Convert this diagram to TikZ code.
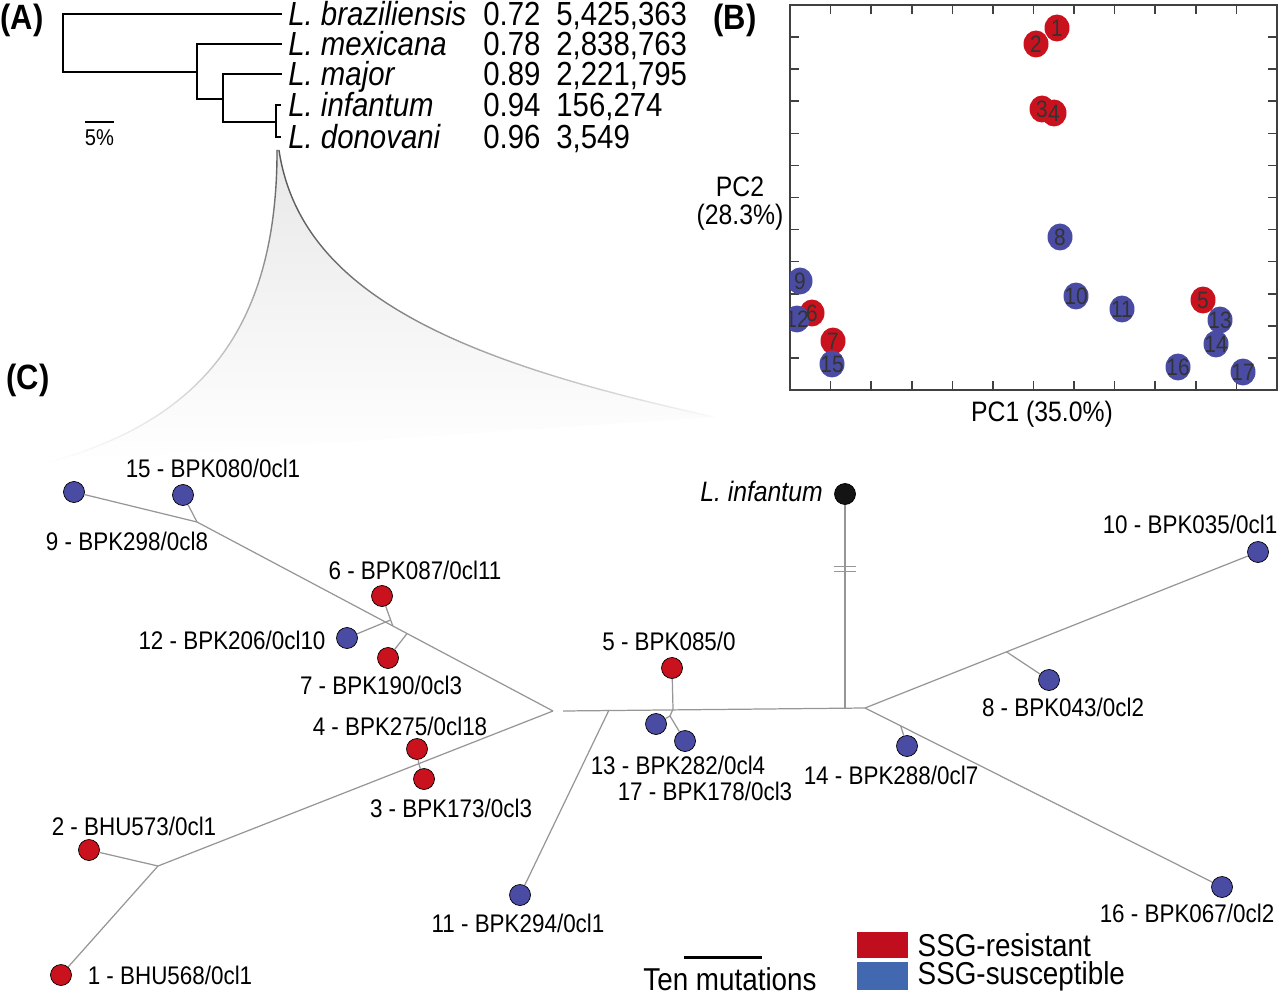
\documentclass[tikz,border=0pt]{standalone}
\usepackage{fontspec}
\setmainfont{Liberation Sans}[FakeStretch=0.88]
\usepackage{tikz}
\usetikzlibrary{positioning, calc, shapes, fadings}
\definecolor{myred}{RGB}{202, 18, 30}
\definecolor{myblue}{RGB}{74, 76, 164}
\definecolor{keyred}{RGB}{192, 14, 30}
\definecolor{keyblue}{RGB}{66, 104, 176}
\definecolor{branchgray}{RGB}{150, 150, 150}
\newcommand{\labfont}{\fontsize{14.5}{17}\selectfont}
\newcommand{\taxfont}{\fontsize{19}{22}\selectfont}
\newcommand{\pcfont}{\fontsize{16}{19}\selectfont}
\newcommand{\keyfont}{\fontsize{18}{21}\selectfont}
\newcommand{\panfont}{\fontsize{20}{24}\selectfont\bfseries}

\begin{document}
\begin{tikzpicture}[x={(0.02cm,0)}, y={(0,-0.02cm)}, every node/.style={inner sep=0pt},
  tree/.style={line width=0.9pt},
  branch/.style={draw=branchgray, line width=0.7pt},
  lab/.style={font=\labfont},
  tax/.style={font=\taxfont, anchor=base west, text height=1.5ex, text depth=0.2ex},
  res/.style={circle, draw, thin, fill=myred, minimum size=0.42cm},
  sus/.style={circle, draw, thin, fill=myblue, minimum size=0.42cm},
  pc/.style={ellipse, minimum width=0.5cm, minimum height=0.54cm},
  pcres/.style={pc, fill=myred},
  pcsus/.style={pc, fill=myblue},
  pcnum/.style={font=\fontsize{13.5}{16}\selectfont, text=black!80}]
  \useasboundingbox (0,0) rectangle (1280,996);

  % panel letters
  \node [font=\panfont] (pa) at (22,20) {(A)};
  \node [font=\panfont] (pb) at (735,20) {(B)};
  \node [font=\panfont] (pcc) at (28,380) {(C)};

  % (A) species tree
  \coordinate (tb) at (282,14);
  \coordinate (tm) at (282,44);
  \coordinate (tj) at (282,74);
  \coordinate (ti) at (281,105);
  \coordinate (td) at (281,137);
  \coordinate (r0) at (63,72);
  \coordinate (r1) at (197,72);
  \coordinate (r2) at (197,99);
  \coordinate (r3) at (223,99);
  \coordinate (r4) at (223,122);
  \coordinate (r5) at (276,122);
  \coordinate (r6) at (276,105);
  \coordinate (r7) at (276,137);
  \draw [tree] (tb) -| (r0) -- (r1);
  \draw [tree] (tm) -| (r2) -- (r3);
  \draw [tree] (tj) -| (r4) -- (r5);
  \draw [tree] (ti) -- (r6) -- (r7) -- (td);
  \coordinate (sb0) at (85,122);
  \coordinate (sb1) at (114,122);
  \draw [line width=0.8pt] (sb0) -- (sb1);
  \node [font=\fontsize{13}{15}\selectfont] (sbl) at (99.5,138) {5\%};

  \node [tax] (braz) at (288,26) {\textit{L. braziliensis}};
  \node [tax] (mexi) at (288,56) {\textit{L. mexicana}};
  \node [tax] (majo) at (288,86) {\textit{L. major}};
  \node [tax] (infa) at (288,117) {\textit{L. infantum}};
  \node [tax] (dono) at (288,149) {\textit{L. donovani}};
  \node [tax] (vb) at (483,26) {0.72};
  \node [tax] (vm) at (483,56) {0.78};
  \node [tax] (vj) at (483,86) {0.89};
  \node [tax] (vi) at (483,117) {0.94};
  \node [tax] (vd) at (483,149) {0.96};
  \node [tax] (cb) at (556,26) {5,425,363};
  \node [tax] (cm) at (556,56) {2,838,763};
  \node [tax] (cj) at (556,86) {2,221,795};
  \node [tax] (ci) at (556,117) {156,274};
  \node [tax] (cd) at (556,149) {3,549};

  % zoom fan
  \shade [top color=black!9, bottom color=white] (277,150) .. controls (277,330) and (200,420) .. (50,462)
    -- (715,417) .. controls (450,360) and (300,290) .. (279,150) -- cycle;
  \draw [black!65, line width=0.8pt, path fading=south] (277,150) .. controls (277,330) and (200,420) .. (50,462);
  \draw [black!65, line width=0.8pt, path fading=east] (279,150) .. controls (300,290) and (450,360) .. (715,417);

  % (B) PCA frame
  \draw [black!75, line width=0.9pt] (790,5) rectangle (1277,390);
  \foreach \i in {1,...,11} {
    \draw [black!75, line width=0.9pt] ({790+\i*40.583},5) -- ++(0,9);
    \draw [black!75, line width=0.9pt] ({790+\i*40.583},390) -- ++(0,-9);
    \draw [black!75, line width=0.9pt] (790,{5+\i*32.083}) -- ++(9,0);
    \draw [black!75, line width=0.9pt] (1277,{5+\i*32.083}) -- ++(-9,0);
  }
  \node [font=\pcfont] (pc2) at (740,187) {PC2};
  \node [font=\pcfont] (pc2v) at (740,217) {(28.3\%)};
  \node [font=\pcfont] (pc1) at (1042,414) {PC1 (35.0\%)};

  % PCA points
  \begin{scope}
  \clip (790,5) rectangle (1277,390);
  \node [pcres] (p1) at (1057,28) {};
  \node [pcres] (p2) at (1036,44) {};
  \node [pcres] (p3) at (1042,109) {};
  \node [pcres] (p4) at (1054,113) {};
  \node [pcsus] (p8) at (1060,237) {};
  \node [pcsus] (p9) at (800,281) {};
  \node [pcsus] (p10) at (1076,296) {};
  \node [pcsus] (p11) at (1122,309) {};
  \node [pcres] (p5) at (1203,300) {};
  \node [pcsus] (p13) at (1220,320) {};
  \node [pcsus] (p14) at (1216,344) {};
  \node [pcres] (p6) at (812,313) {};
  \node [pcsus] (p12) at (797,319) {};
  \node [pcres] (p7) at (833,341) {};
  \node [pcsus] (p15) at (832,364) {};
  \node [pcsus] (p16) at (1178,367) {};
  \node [pcsus] (p17) at (1243,372) {};
  \foreach \k in {1,...,17}
    \node [pcnum] at (p\k) {\k};
  \end{scope}

  % (C) network nodes
  \node [res] (n1) at (61,975) {};
  \node [res] (n2) at (89,850) {};
  \node [res] (n3) at (424,779) {};
  \node [res] (n4) at (417,749) {};
  \node [res] (n5) at (672,668) {};
  \node [res] (n6) at (382,596) {};
  \node [res] (n7) at (388,658) {};
  \node [sus] (n8) at (1049,680) {};
  \node [sus] (n9) at (74,492) {};
  \node [sus] (n10) at (1258,552) {};
  \node [sus] (n11) at (520,895) {};
  \node [sus] (n12) at (347,638) {};
  \node [sus] (n13) at (656,724) {};
  \node [sus] (n14) at (907,746) {};
  \node [sus] (n15) at (183,495) {};
  \node [sus] (n16) at (1222,887) {};
  \node [sus] (n17) at (685,741) {};
  \node [circle, draw, thin, fill=black!92, minimum size=0.42cm] (linf) at (845,494) {};

  % junctions
  \coordinate (hubL) at (553,711);
  \coordinate (hubLr) at (563,711);
  \coordinate (j11) at (609,710);
  \coordinate (j5) at (673,709);
  \coordinate (jinf) at (845,709);
  \coordinate (hubR) at (865,708);
  \coordinate (j15) at (197,522);
  \coordinate (j6) at ($(j15)!0.55!(hubL)$);
  \coordinate (j7) at ($(j15)!0.59!(hubL)$);
  \coordinate (j12) at ($(n6)!0.8!(j6)$);
  \coordinate (j2) at (158,866);
  \coordinate (j34) at ($(hubL)!0.34!(j2)$);
  \coordinate (j1317) at (670,716);
  \coordinate (j8) at ($(hubR)!0.36!(n10)$);
  \coordinate (j14) at ($(hubR)!0.1!(n16)$);
  \coordinate (brk) at (845,569);

  % edges
  \draw [branch] (n9) -- (j15) -- (hubL);
  \draw [branch] (n15) -- (j15);
  \draw [branch] (n6) -- (j6);
  \draw [branch] (n12) -- (j12);
  \draw [branch] (n7) -- (j7);
  \draw [branch] (hubL) -- (j34) -- (j2);
  \draw [branch] (n4) -- (j34);
  \draw [branch] (n3) -- (j34);
  \draw [branch] (n2) -- (j2);
  \draw [branch] (n1) -- (j2);
  \draw [branch] (hubLr) -- (hubR);
  \draw [branch] (n11) -- (j11);
  \draw [branch] (n5) -- (j5) -- (j1317);
  \draw [branch] (j1317) -- (n13);
  \draw [branch] (j1317) -- (n17);
  \draw [branch] (linf) -- (jinf);
  \draw [branch] (hubR) -- (n10);
  \draw [branch] (hubR) -- (n16);
  \draw [branch] (n8) -- (j8);
  \draw [branch] (n14) -- (j14);
  \draw [branch] ([xshift=-6pt, yshift=1.6pt]brk) -- ++(12pt,0);
  \draw [branch] ([xshift=-6pt, yshift=-1.6pt]brk) -- ++(12pt,0);

  % labels
  \node [lab] (l15) at (213,468) {15 - BPK080/0cl1};
  \node [lab] (l9) at (127,541) {9 - BPK298/0cl8};
  \node [lab] (l6) at (415,570) {6 - BPK087/0cl11};
  \node [lab] (l12) at (232,640) {12 - BPK206/0cl10};
  \node [lab] (l7) at (381,685) {7 - BPK190/0cl3};
  \node [lab] (l4) at (400,726) {4 - BPK275/0cl18};
  \node [lab] (l3) at (451,808) {3 - BPK173/0cl3};
  \node [lab] (l2) at (134,826) {2 - BHU573/0cl1};
  \node [lab] (l1) at (170,975) {1 - BHU568/0cl1};
  \node [lab] (l11) at (518,923) {11 - BPK294/0cl1};
  \node [lab] (l5) at (669,641) {5 - BPK085/0};
  \node [lab] (l13) at (678,765) {13 - BPK282/0cl4};
  \node [lab] (l17) at (705,791) {17 - BPK178/0cl3};
  \node [lab] (l14) at (891,775) {14 - BPK288/0cl7};
  \node [lab] (l8) at (1063,707) {8 - BPK043/0cl2};
  \node [lab] (l10) at (1190,524) {10 - BPK035/0cl1};
  \node [lab] (l16) at (1187,913) {16 - BPK067/0cl2};
  \node [font=\fontsize{16}{19}\selectfont, anchor=east] (linfl) at (823,491) {\textit{L. infantum}};

  % scale bar and key
  \coordinate (tm0) at (684,957);
  \coordinate (tm1) at (762,957);
  \draw [line width=1.7pt] (tm0) -- (tm1);
  \node [font=\keyfont] (tml) at (730,979) {Ten mutations};
  \node [fill=keyred, minimum width=1.02cm, minimum height=0.52cm] (kres) at (882.5,945) {};
  \node [fill=keyblue, minimum width=1.02cm, minimum height=0.56cm] (ksus) at (882.5,976) {};
  \node [font=\keyfont, right = 0.18cm of kres] (kresl) {SSG-resistant};
  \node [font=\keyfont, right = 0.18cm of ksus] (ksusl) {SSG-susceptible};
\end{tikzpicture}
\end{document}
